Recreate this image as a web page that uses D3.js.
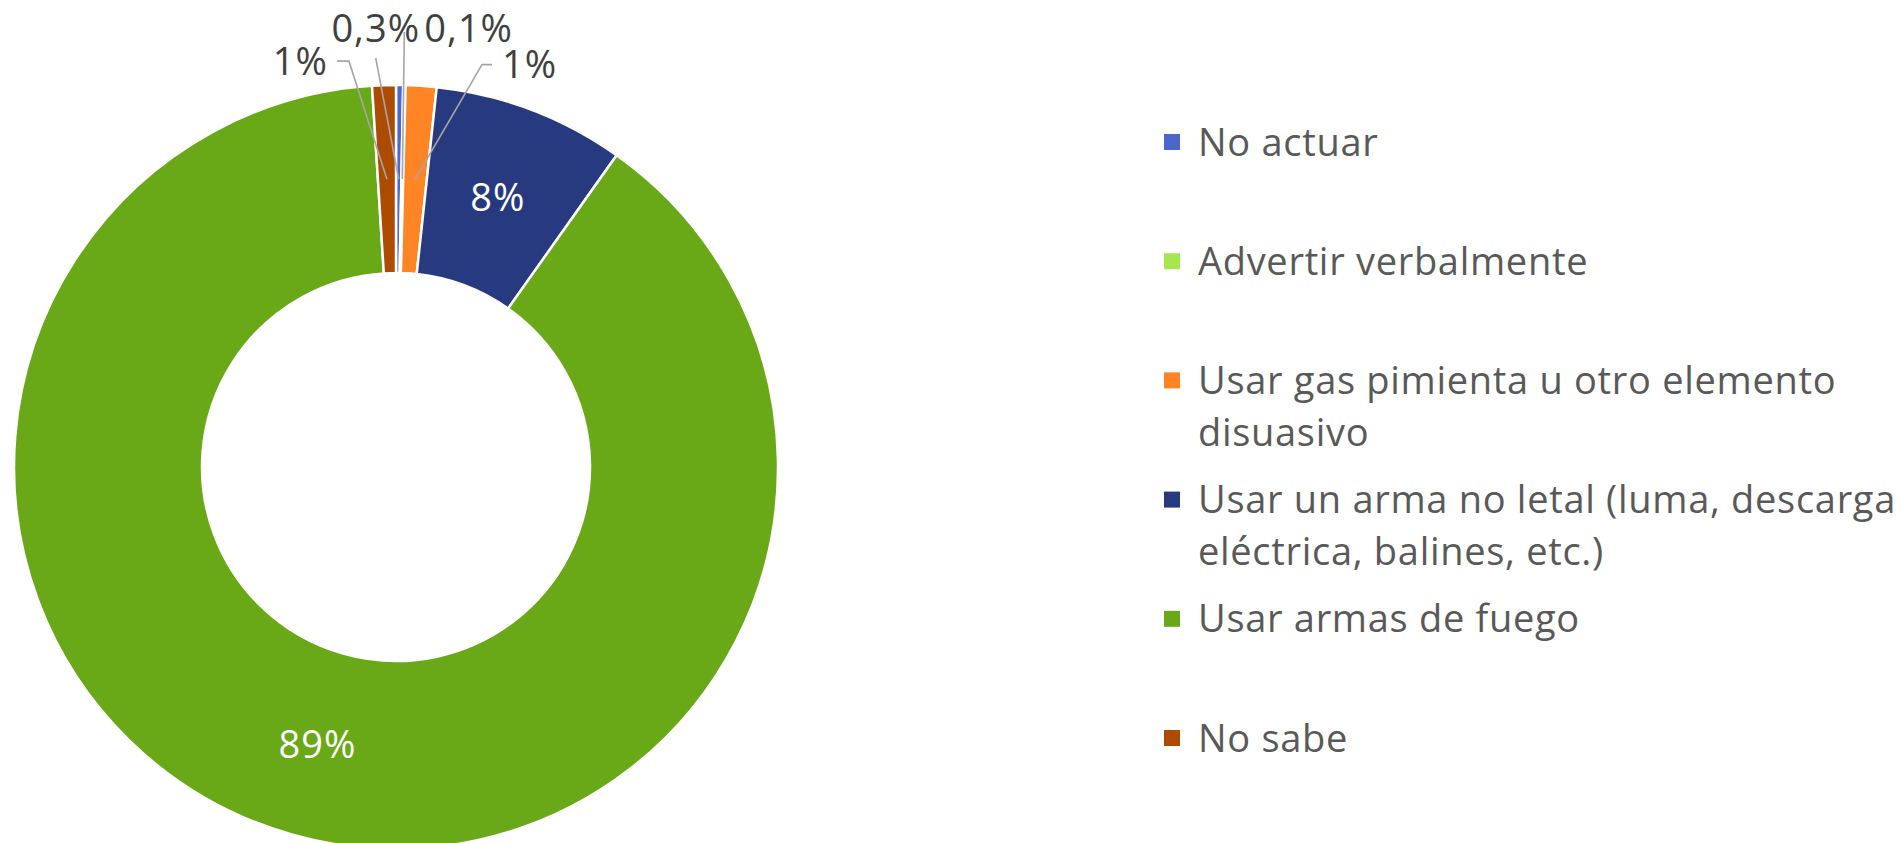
<!DOCTYPE html>
<html><head><meta charset="utf-8">
<script src="https://cdn.jsdelivr.net/npm/d3@7"></script>
<style>body{margin:0;background:#fff}svg{display:block}</style>
</head><body><svg id="c" width="1901" height="843"></svg>
<script>
const categories = ["No actuar","Advertir verbalmente","Usar gas pimienta u otro elemento disuasivo","Usar un arma no letal (luma, descarga eléctrica, balines, etc.)","Usar armas de fuego","No sabe"];
const values = [0.3, 0.1, 1.3, 8.1, 89.2, 1.0];
const valueLabels = ["0,3%","0,1%","1%","8%","89%","1%"];
const colors = ["#4d66cc","#a6e64e","#ff8424","#283a7f","#69a816","#ad4b00"];

// layout (not data)
const cx = 396, cy = 467, R = 382, r0 = 194;
const FONT = "'Open Sans', sans-serif";
// outside label leader layout: offsets from slice centroid
const outside = {
  0:{pts:[[-23,-121]], tx:-23, ty:-151, anchor:"middle"},
  1:{pts:[[2,-147]], tx:22, ty:-151, anchor:"start"},
  2:{pts:[[67,-115],[77,-115]], tx:87, ty:-115, anchor:"start"},
  5:{pts:[[-38,-118],[-50,-118]], tx:-59, ty:-118, anchor:"end"}
};

const svg = d3.select("#c");
const g = svg.append("g").attr("transform",`translate(${cx},${cy})`);
const pie = d3.pie().sort(null).value(d=>d);
const arcs = pie(values);
const arc = d3.arc().innerRadius(r0).outerRadius(R);
const mid = d3.arc().innerRadius((R+r0)/2).outerRadius((R+r0)/2);

g.selectAll("path.s").data(arcs).join("path").attr("class","s")
  .attr("d",arc).attr("fill",(d,i)=>colors[i])
  .attr("stroke","#fff").attr("stroke-width",2.5).attr("stroke-linejoin","round");

arcs.forEach((d,i)=>{
  const c = mid.centroid(d);
  const o = outside[i];
  if(o){
    const pts=[c].concat(o.pts.map(p=>[c[0]+p[0],c[1]+p[1]]));
    g.append("path").attr("d",d3.line()(pts)).attr("fill","none")
      .attr("stroke","#a6a6a6").attr("stroke-width",1.6);
    g.append("text").attr("x",c[0]+o.tx).attr("y",c[1]+o.ty).attr("dy","0.36em")
      .attr("text-anchor",o.anchor).attr("fill","#404040")
      .style("font-family",FONT).style("font-size","38px").style("letter-spacing","1px").text(valueLabels[i]);
  } else {
    g.append("text").attr("x",c[0]).attr("y",c[1]).attr("dy","0.36em")
      .attr("text-anchor","middle").attr("fill","#fff")
      .style("font-family",FONT).style("font-size","38px").style("letter-spacing","1px").text(valueLabels[i]);
  }
});

// legend
const lx = 1164, ly0 = 142, lstep = 119.2, lineH = 52, maxW = 720;
const leg = svg.append("g");
categories.forEach((name,i)=>{
  const y = ly0 + i*lstep;
  leg.append("rect").attr("x",lx).attr("y",y-8).attr("width",16).attr("height",16).attr("fill",colors[i]);
  const t = leg.append("text").attr("x",lx+34).attr("y",y).attr("fill","#595959")
    .style("font-family",FONT).style("font-size","38px").style("letter-spacing","0.7px");
  const words = name.split(" ");
  let line=[], lineNo=0;
  let ts = t.append("tspan").attr("x",lx+34).attr("dy","0.36em");
  words.forEach(w=>{
    line.push(w); ts.text(line.join(" "));
    if(ts.node().getComputedTextLength()>maxW && line.length>1){
      line.pop(); ts.text(line.join(" ")); line=[w]; lineNo++;
      ts = t.append("tspan").attr("x",lx+34).attr("y",y+lineNo*lineH).attr("dy","0.36em").text(w);
    }
  });
});
</script></body></html>
